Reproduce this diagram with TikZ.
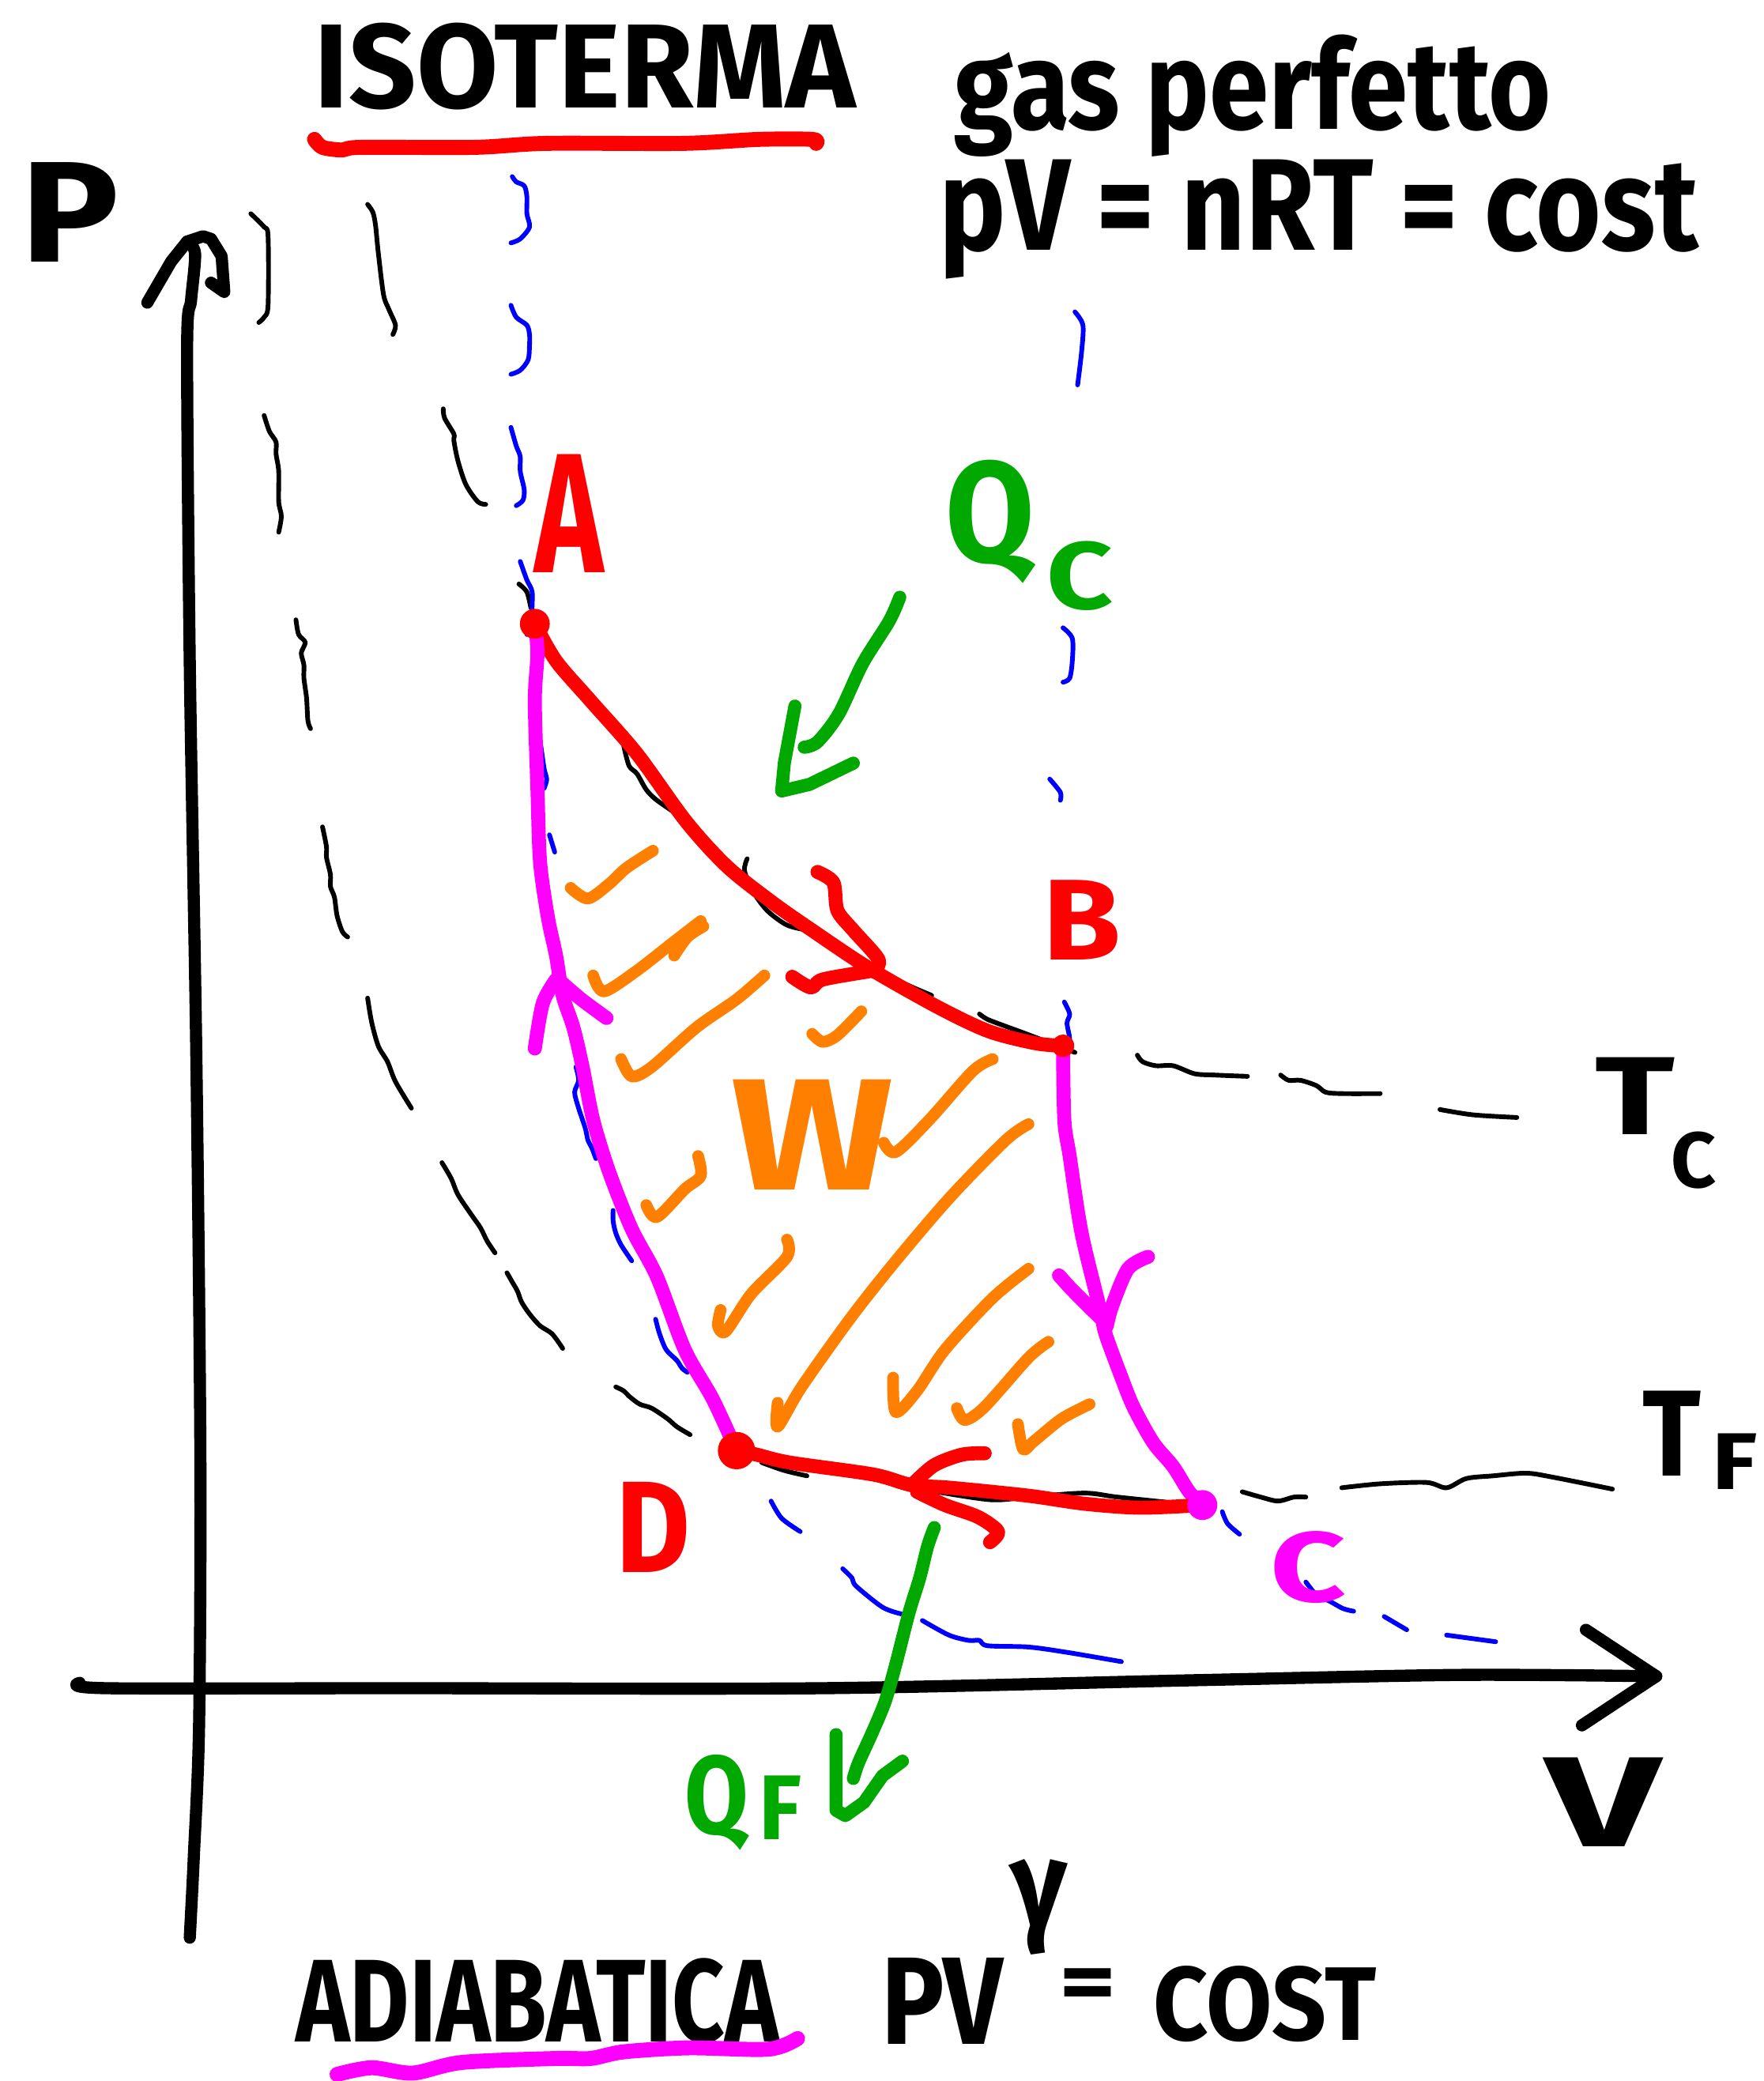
\documentclass[tikz,border=0pt]{standalone}
\usepackage{fontspec}
\setmainfont{Fira Sans}
\usepackage{graphicx}
\newlength\un
\setlength\un{0.01cm}
\definecolor{mag}{RGB}{255,0,255}
\definecolor{horange}{RGB}{255,128,0}
\definecolor{qgreen}{RGB}{0,168,0}
\definecolor{dblue}{RGB}{0,0,255}
\newcommand\hwb[3]{\resizebox{#1\un}{#2\un}{\bfseries #3}}
\newcommand\hwbt[3]{\resizebox*{#1\un}{#2\un}{\bfseries #3}}
\tikzset{
  axln/.style={black,line width=2.6pt,line cap=round,line join=round},
  tfl/.style={black,line width=1pt,line cap=round,line join=round},
  adil/.style={dblue,line width=1pt,line cap=round,line join=round},
  redl/.style={red,line width=3pt,line cap=round,line join=round},
  magl/.style={mag,line width=3pt,line cap=round,line join=round},
  hatchl/.style={horange,line width=2.5pt,line cap=round,line join=round},
  grnl/.style={qgreen,line width=2.8pt,line cap=round,line join=round},
  lbl/.style={inner sep=0pt,outer sep=0pt},
}
\begin{document}
\begin{tikzpicture}[x=0.01cm,y=-0.01cm]
\useasboundingbox (0,0) rectangle (1329,1568);
\fill[white] (0,0) rectangle (1329,1568);

% ---------- isotherm T_F (black dashed) ----------
\draw[tfl] plot[smooth] coordinates {(189,161) (199,171) (202,178) (202,230) (199,239) (195,243)};
\draw[tfl] plot[smooth] coordinates {(199,313) (203,325) (208,333) (208,342) (210,355) (210,378) (212,389) (210,401)};
\draw[tfl] plot[smooth] coordinates {(223,467) (225,478) (230,484) (227,492) (229,501) (229,511) (231,526) (232,543) (234,549)};
\draw[tfl] plot[smooth] coordinates {(243,623) (246,638) (246,646) (249,659) (249,668) (252,676) (254,690) (258,702) (262,706)};
\draw[tfl] plot[smooth] coordinates {(277,752) (280,770) (285,788) (292,800) (298,815) (310,835)};
\draw[tfl] plot[smooth] coordinates {(333,876) (340,888) (345,900) (355,915) (362,925) (367,935) (373,944)};
\draw[tfl] plot[smooth] coordinates {(382,959) (386,966) (390,973) (393,981) (399,990) (407,999) (416,1005) (424,1016)};
\draw[tfl] plot[smooth] coordinates {(464,1045) (470,1048) (474,1052) (482,1058) (491,1061) (503,1069) (510,1075) (520,1081)};
\draw[tfl] plot[smooth] coordinates {(574,1102) (591,1108) (608,1112)};
\draw[tfl] plot[smooth] coordinates {(700,1123) (746,1130) (775,1128) (817,1125) (842,1128) (890,1133)};
\draw[tfl] plot[smooth] coordinates {(936,1124) (950,1128) (963,1131) (975,1128) (984,1128)};
\draw[tfl] plot[smooth] coordinates {(1011,1121) (1040,1118) (1075,1117) (1090,1121) (1105,1114) (1125,1112) (1150,1110) (1170,1113) (1215,1122)};

% ---------- isotherm T_C (black dashed) ----------
\draw[tfl] plot[smooth] coordinates {(277,154) (281,160) (283,170) (285,190) (289,222) (293,233) (298,245) (296,252)};
\draw[tfl] plot[smooth] coordinates {(334,308) (335,315) (342,327) (342,332) (345,347) (351,365) (360,378) (366,380)};
\draw[tfl] plot[smooth] coordinates {(391,440) (397,446) (400,458)};
\draw[tfl] plot[smooth] coordinates {(470,562) (474,577) (480,583) (487,595) (495,603) (514,616)};
\draw[tfl] plot[smooth] coordinates {(563,647) (561,656) (567,671) (578,686) (593,697) (609,701)};
\draw[tfl] plot[smooth] coordinates {(669,735) (681,741) (702,750)};
\draw[tfl] plot[smooth] coordinates {(738,764) (744,768) (757,773) (776,780) (810,793)};
\draw[tfl] plot[smooth] coordinates {(857,795) (861,800) (871,803) (884,803) (900,809) (915,810) (940,811)};
\draw[tfl] plot[smooth] coordinates {(965,810) (971,814) (980,814) (992,818) (999,823) (1012,824) (1040,824)};
\draw[tfl] plot[smooth] coordinates {(1085,836) (1110,840) (1143,842)};

% ---------- adiabat through A and D (blue dashed) ----------
\draw[adil] plot[smooth] coordinates {(386,133) (389,137) (395,140) (397,148) (397,161) (399,171) (392,180) (385,183)};
\draw[adil] plot[smooth] coordinates {(385,230) (389,239) (397,245) (399,252) (399,260) (398,271) (392,279) (385,282)};
\draw[adil] plot[smooth] coordinates {(385,322) (389,336) (392,344) (392,355) (395,369) (394,377) (389,381)};
\draw[adil] plot[smooth] coordinates {(392,423) (397,437) (401,446) (401,463) (404,469) (400,475) (397,478)};
\draw[adil] plot[smooth] coordinates {(401,536) (406,553) (410,579) (412,587) (410,594)};
\draw[adil] plot[smooth] coordinates {(414,629) (418,642)};
\draw[adil] plot[smooth] coordinates {(434,804) (436,814) (433,823) (436,835) (441,850) (443,859) (446,865) (449,873)};
\draw[adil] plot[smooth] coordinates {(462,912) (462,920) (464,929) (468,938) (476,950)};
\draw[adil] plot[smooth] coordinates {(494,994) (497,1005) (502,1017) (510,1025) (514,1031) (518,1034)};
\draw[adil] plot[smooth] coordinates {(541,1069) (545,1078) (549,1083)};
\draw[adil] plot[smooth] coordinates {(581,1131) (589,1144) (603,1154)};
\draw[adil] plot[smooth] coordinates {(635,1182) (642,1189) (645,1195) (665,1211) (679,1216)};
\draw[adil] plot[smooth] coordinates {(695,1221) (715,1232) (730,1236) (738,1236) (744,1240) (775,1241) (804,1245) (845,1252)};

% ---------- adiabat through B and C (blue dashed) ----------
\draw[adil] plot[smooth] coordinates {(810,235) (816,245) (815,265) (812,290)};
\draw[adil] plot[smooth] coordinates {(801,473) (808,481) (808,498) (806,511) (801,514)};
\draw[adil] plot[smooth] coordinates {(791,587) (799,597) (799,603)};
\draw[adil] plot[smooth] coordinates {(802,755) (806,764) (804,771) (806,783) (804,793)};
\draw[adil] plot[smooth] coordinates {(921,1139) (925,1148) (934,1156)};
\draw[adil] plot[smooth] coordinates {(984,1192) (993,1203) (1001,1206) (1012,1212) (1020,1214)};
\draw[adil] plot[smooth] coordinates {(1043,1218) (1060,1228)};
\draw[adil] plot[smooth] coordinates {(1090,1232) (1127,1237)};

% ---------- axes ----------
\coordinate (O0) at (143,1460);
\coordinate (Ptip) at (141,182);
\coordinate (H0) at (60,1268);
\coordinate (Vtip) at (1248,1263);
\draw[axln] plot[smooth] coordinates {(O0) (146,1400) (150,1300) (151,1100) (148,800) (143,500) (141,262) (144,226) (147,191) (Ptip)};
\draw[axln] (111,228) -- (129,197) -- (Ptip) -- (153,178) -- (159,180) -- (167,193) -- (169,220) -- (159,213);
\draw[axln] plot[smooth] coordinates {(H0) (80,1272) (300,1272) (620,1272) (900,1266) (1100,1262) (Vtip)};
\draw[axln] (1195,1228) -- (Vtip) -- (1192,1300);

% ---------- hatching (work) ----------
\draw[hatchl] plot[smooth] coordinates {(430,669) (443,677) (459,666) (472,654) (492,641)};
\draw[hatchl] plot[smooth] coordinates {(447,735) (455,747) (479,732) (506,711) (528,694)};
\draw[hatchl] plot[smooth] coordinates {(508,720) (518,706) (530,698)};
\draw[hatchl] plot[smooth] coordinates {(468,798) (476,811) (491,804) (525,774) (555,753) (576,735)};
\draw[hatchl] plot[smooth] coordinates {(612,779) (620,785) (631,780) (649,762)};
\draw[hatchl] plot[smooth] coordinates {(666,861) (675,868) (700,844) (733,807) (748,798)};
\draw[hatchl] plot[smooth] coordinates {(487,908) (495,917) (516,896) (528,886) (526,871)};
\draw[hatchl] plot[smooth] coordinates {(586,1057) (586,1075) (604,1045) (641,993) (675,950) (716,902) (758,859) (775,847)};
\draw[hatchl] plot[smooth] coordinates {(543,987) (541,999) (547,1003) (566,975) (593,947) (593,934)};
\draw[hatchl] plot[smooth] coordinates {(673,1038) (675,1064) (691,1048) (712,1017) (748,978) (775,956)};
\draw[hatchl] plot[smooth] coordinates {(721,1061) (727,1070) (742,1060) (775,1023) (790,1011)};
\draw[hatchl] plot[smooth] coordinates {(767,1073) (771,1092) (779,1086) (800,1069) (821,1058)};
\node[lbl,text=horange] (tW) at (612,855) {\hwb{122}{83}{W}};

% ---------- Carnot cycle ----------
\coordinate (A) at (403,470);
\coordinate (B) at (801,788);
\coordinate (C) at (906,1134);
\coordinate (D) at (555,1093);
% A -> B isotherm (red)
\draw[redl] plot[smooth] coordinates {(A) (419,498) (445,528) (480,568) (517,619) (548,653) (582,680) (612,701) (654,729) (707,759) (745,777) (780,786) (B)};
\draw[redl] plot[smooth] coordinates {(616,657) (628,665) (631,686) (643,701) (662,723) (658,732)};
\draw[redl] plot[smooth] coordinates {(597,736) (611,744) (620,738) (654,732)};
% B -> C adiabat (magenta)
\draw[magl] plot[smooth] coordinates {(B) (802,844) (806,871) (815,929) (829,987) (833,1005) (844,1035) (854,1060) (869,1087) (884,1105) (896,1124) (C)};
\draw[magl] plot[smooth] coordinates {(798,961) (808,972) (829,993)};
\draw[magl] plot[smooth] coordinates {(865,947) (850,956) (838,984) (834,999)};
% C -> D isotherm (red)
\draw[redl] plot[smooth] coordinates {(C) (859,1136) (817,1133) (775,1127) (716,1121) (687,1119) (658,1111) (595,1102) (570,1096) (D)};
\draw[redl] plot[smooth] coordinates {(742,1095) (725,1096) (704,1104) (687,1119)};
\draw[redl] plot[smooth] coordinates {(691,1124) (712,1134) (737,1143) (752,1154) (746,1162)};
% D -> A adiabat (magenta)
\draw[magl] plot[smooth] coordinates {(D) (537,1054) (516,1017) (495,962) (476,926) (459,883) (447,844) (439,804) (432,774) (424,750) (419,720) (413,692) (407,650) (405,595) (403,528) (405,492) (A)};
\draw[magl] plot[smooth] coordinates {(403,790) (409,756) (419,738)};
\draw[magl] plot[smooth] coordinates {(424,741) (438,753) (457,767)};
% state points
\fill[red] (A) circle (3.2pt);
\fill[red] (B) circle (2.4pt);
\fill[mag] (C) circle (3.2pt);
\fill[red] (D) circle (4pt);

% ---------- heat arrows ----------
\draw[grnl] plot[smooth] coordinates {(678,450) (670,468) (650,500) (632,538) (616,559) (606,563)};
\draw[grnl] (599,532) -- (591,575) -- (589,596) -- (610,591) -- (643,575);
\draw[grnl] plot[smooth] coordinates {(704,1151) (699,1165) (693,1189) (685,1215) (675,1254) (667,1282) (657,1306) (647,1328) (643,1340)};
\draw[grnl] (630,1307) -- (630,1364) -- (637,1368) -- (651,1358) -- (665,1338) -- (680,1327);

% ---------- labels ----------
\node[lbl] (tP) at (53,160) {\hwb{74}{75}{P}};
\node[lbl] (tV) at (1208,1358) {\hwb{87}{67}{V}};
\node[lbl,text=red] (tA) at (429,387) {\hwb{52}{89}{A}};
\node[lbl,text=red] (tB) at (815,693) {\hwb{59}{60}{B}};
\node[lbl,text=mag] (tC) at (986,1181) {\hwb{57}{53}{C}};
\node[lbl,text=red] (tD) at (492,1151) {\hwb{56}{68}{D}};
\node[lbl,text=qgreen] (tQc) at (746,393) {\hwbt{67}{93}{Q}};
\node[lbl,text=qgreen] (tQcs) at (814,434) {\hwb{50}{51}{C}};
\node[lbl,text=qgreen] (tQf) at (540,1358) {\hwbt{48}{72}{Q}};
\node[lbl,text=qgreen] (tQfs) at (588,1362) {\hwb{32}{48}{F}};
\node[lbl] (tTc) at (1232,826) {\hwb{60}{58}{T}};
\node[lbl] (tTcs) at (1276,874) {\hwb{34}{42}{C}};
\node[lbl] (tTf) at (1260,1080) {\hwb{44}{64}{T}};
\node[lbl] (tTfs) at (1307,1101) {\hwb{34}{42}{F}};

% ---------- titles ----------
\node[lbl] (tiso) at (441,50) {\hwb{408}{64}{ISOTERMA}};
\draw[redl,line width=3.2pt] plot[smooth] coordinates {(237,105) (243,111) (258,113) (272,111) (358,111) (412,108) (515,108) (572,105) (612,105) (615,108)};
\node[lbl] (tgas) at (944,72) {\hwbt{450}{92}{gas perfetto}};
\node[lbl] (tpv) at (994,165) {\hwbt{572}{90}{pV = nRT = cost}};
\node[lbl] (tadi) at (405,1508) {\hwb{364}{63}{ADIABATICA}};
\draw[magl,line width=3.2pt] plot[smooth] coordinates {(254,1563) (280,1558) (311,1562) (348,1554) (419,1551) (445,1551) (470,1546) (519,1543) (579,1544) (601,1536)};
\node[lbl] (tPV) at (710,1508) {\hwb{91}{65}{PV}};
\node[lbl] (tgam) at (783,1437) {\hwbt{43}{72}{γ}};
\node[lbl] (teq) at (820,1499) {\hwb{43}{32}{=}};
\node[lbl] (tcost) at (953,1510) {\hwb{168}{56}{COST}};
\end{tikzpicture}
\end{document}
